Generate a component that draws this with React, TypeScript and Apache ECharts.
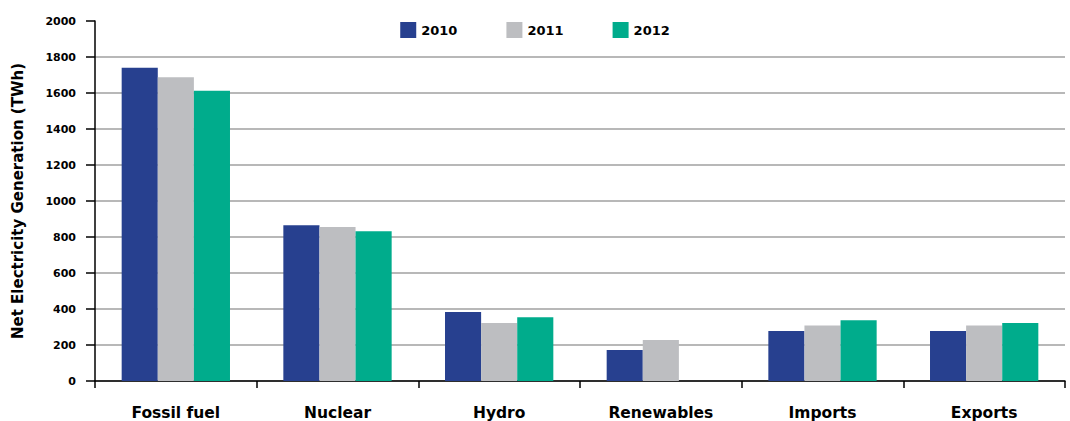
import React, { useEffect, useRef } from "react";
import * as echarts from "echarts";

const categories = ["Fossil fuel", "Nuclear", "Hydro", "Renewables", "Imports", "Exports"];
const seriesNames = ["2010", "2011", "2012"];
const values2010 = [1740, 865, 383, 172, 278, 278];
const values2011 = [1687, 855, 322, 228, 309, 309];
const values2012 = [1613, 832, 354, 0, 337, 322];
const colors = ["#27408f", "#bdbec1", "#00ac8c"];

export default function App() {
  const ref = useRef<HTMLDivElement>(null);
  useEffect(() => {
    const chart = echarts.init(ref.current!, null, { renderer: "svg" });
    const font = "DejaVu Sans";
    const data = [values2010, values2011, values2012];
    chart.setOption({
      animation: false,
      color: colors,
      textStyle: { fontFamily: font },
      legend: {
        top: 17,
        left: "center",
        itemWidth: 16,
        itemHeight: 16,
        itemGap: 49,
        icon: "rect",
        textStyle: { fontFamily: font, fontWeight: "bold", fontSize: 13, color: "#000" },
        data: seriesNames,
      },
      grid: { left: 95, right: 5, top: 21, bottom: 40 },
      xAxis: {
        type: "category",
        data: categories,
        axisLine: { lineStyle: { color: "#000", width: 1.5 } },
        axisTick: { show: true, length: 7, lineStyle: { color: "#000", width: 1.5 } },
        axisLabel: { margin: 24, fontFamily: font, fontWeight: "bold", fontSize: 15.5, color: "#000" },
      },
      yAxis: {
        type: "value",
        min: 0,
        max: 2000,
        interval: 200,
        name: "Net Electricity Generation (TWh)",
        nameLocation: "middle",
        nameGap: 70,
        nameRotate: 90,
        nameTextStyle: { fontFamily: font, fontWeight: "bold", fontSize: 15, color: "#000" },
        axisLine: { show: true, lineStyle: { color: "#000", width: 1.5 } },
        axisTick: { show: true, length: 9, lineStyle: { color: "#000", width: 1.5 } },
        axisLabel: {
          margin: 19,
          fontFamily: font,
          fontWeight: "bold",
          fontSize: 11,
          color: "#000",
          formatter: (v: number) => String(v),
        },
        splitLine: { show: true, showMaxLine: false, lineStyle: { color: "#a0a0a0", width: 1.5 } },
      },
      series: seriesNames.map((name, i) => ({
        name,
        type: "bar",
        data: data[i],
        barGap: "0%",
        barCategoryGap: "33%",
        itemStyle: { color: colors[i] },
      })),
    });
    return () => chart.dispose();
  }, []);
  return <div ref={ref} style={{ position: "absolute", left: 0, top: 0, width: 1070, height: 421 }} />;
}
